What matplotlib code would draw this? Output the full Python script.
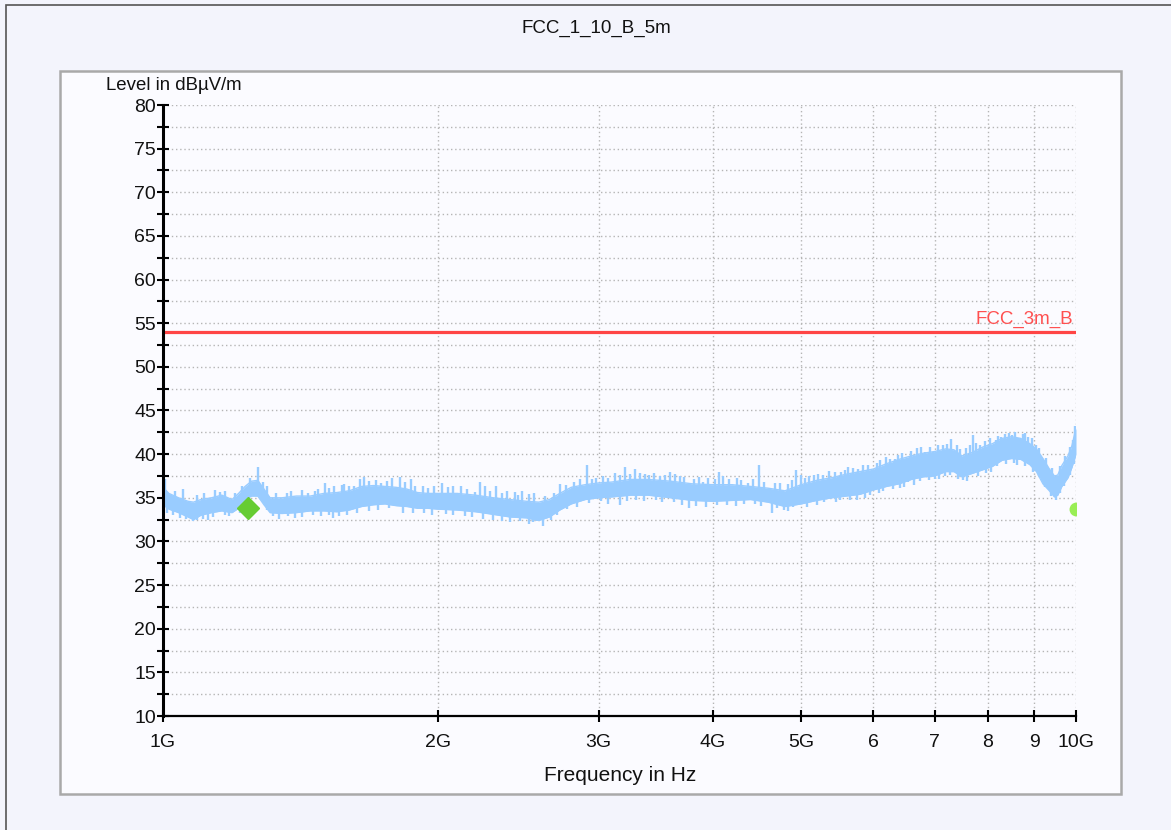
import matplotlib
matplotlib.use("Agg")
import matplotlib.pyplot as plt
from matplotlib.patches import Rectangle
from matplotlib.ticker import FixedLocator, NullLocator, NullFormatter
import numpy as np

plt.rcParams['font.family'] = ['Liberation Sans', 'DejaVu Sans']

# ---------------- data ----------------
title = "FCC_1_10_B_5m"
y_label = "Level in dBµV/m"
x_label = "Frequency in Hz"
limit_name = "FCC_3m_B"
limit_level = 54.0

x_tick_ghz = [1, 2, 3, 4, 5, 6, 7, 8, 9, 10]
x_tick_labels = ["1G", "2G", "3G", "4G", "5G", "6", "7", "8", "9", "10G"]
y_major = [10, 15, 20, 25, 30, 35, 40, 45, 50, 55, 60, 65, 70, 75, 80]
y_minor = [12.5, 17.5, 22.5, 27.5, 32.5, 37.5, 42.5, 47.5, 52.5, 57.5, 62.5, 67.5, 72.5, 77.5]

# measured trace: lower / upper envelope of the band (GHz, dBµV/m)
env_ghz = [1.000, 1.015, 1.04, 1.065, 1.08, 1.10, 1.13, 1.16, 1.19, 1.21, 1.23, 1.25,
           1.27, 1.29, 1.31, 1.35, 1.40, 1.45, 1.50, 1.55, 1.60, 1.65, 1.70, 1.75,
           1.80, 1.85, 1.90, 1.95, 2.00, 2.10, 2.20, 2.30, 2.40, 2.50, 2.58, 2.65,
           2.72, 2.80, 2.90, 3.00, 3.10, 3.25, 3.40, 3.60, 3.80, 4.00, 4.20, 4.40,
           4.60, 4.80, 5.00, 5.20, 5.40, 5.60, 5.80, 6.00, 6.20, 6.40, 6.60, 6.80,
           7.00, 7.20, 7.35, 7.50, 7.70, 7.90, 8.10, 8.30, 8.50, 8.70, 8.90, 9.05,
           9.20, 9.35, 9.47, 9.55, 9.65, 9.80, 9.90, 10.00]
env_low = [34.2, 33.7, 33.3, 32.8, 32.5, 33.0, 33.3, 33.5, 33.3, 33.8, 34.8, 35.2,
           35.2, 34.2, 33.3, 33.2, 33.3, 33.5, 33.5, 33.4, 33.6, 34.0, 34.2, 34.3,
           34.1, 34.0, 33.8, 33.8, 33.7, 33.6, 33.4, 33.1, 32.8, 32.7, 32.4, 32.8,
           33.6, 34.3, 34.8, 35.0, 35.1, 35.3, 35.3, 35.0, 34.7, 34.6, 34.7, 34.8,
           34.5, 34.0, 34.3, 34.7, 35.0, 35.2, 35.4, 35.9, 36.3, 36.6, 37.1, 37.4,
           37.5, 38.0, 38.0, 37.4, 37.8, 38.2, 38.6, 39.3, 39.5, 39.4, 38.8, 38.0,
           36.6, 35.8, 35.1, 35.3, 36.3, 37.3, 38.5, 40.0]
env_high = [36.2, 35.5, 35.0, 34.6, 34.5, 34.8, 35.0, 35.3, 34.8, 35.5, 36.3, 36.9,
            37.0, 36.0, 35.0, 35.0, 35.2, 35.2, 35.5, 35.6, 35.8, 36.3, 36.4, 36.3,
            36.2, 36.0, 35.6, 35.5, 35.5, 35.5, 35.3, 35.0, 34.8, 34.6, 34.5, 34.8,
            35.5, 36.2, 36.5, 36.7, 36.8, 37.1, 37.1, 36.9, 36.6, 36.5, 36.5, 36.3,
            36.1, 35.8, 36.5, 37.0, 37.3, 37.7, 38.0, 38.3, 38.9, 39.4, 39.8, 40.1,
            40.3, 40.6, 40.5, 39.8, 40.2, 40.8, 41.2, 41.8, 42.0, 41.8, 41.2, 40.6,
            39.5, 38.3, 37.5, 37.6, 38.7, 39.8, 41.0, 43.0]

# peaks sticking out above the band (GHz, tip level)
spike_up_ghz = [1.005, 1.03, 1.052, 1.09, 1.11, 1.14, 1.155, 1.17, 1.20, 1.22,
                1.245, 1.272, 1.287, 1.30, 1.33, 1.366, 1.38, 1.42, 1.44, 1.467,
                1.48, 1.504, 1.52, 1.54, 1.57, 1.58, 1.60, 1.62, 1.643, 1.66,
                1.68, 1.71, 1.735, 1.76, 1.78, 1.818, 1.84, 1.87, 1.89, 1.928,
                1.95, 1.98, 2.02, 2.05, 2.08, 2.12, 2.15, 2.195, 2.225, 2.25,
                2.28, 2.318, 2.35, 2.38, 2.43, 2.45, 2.47, 2.52, 2.55, 2.62,
                2.68, 2.72, 2.76, 2.82, 2.86, 2.91, 2.95, 2.98, 3.03, 3.07,
                3.13, 3.17, 3.21, 3.25, 3.29, 3.33, 3.37, 3.41, 3.45, 3.50,
                3.55, 3.59, 3.64, 3.68, 3.72, 3.82, 3.86, 3.90, 3.95, 4.02,
                4.06, 4.11, 4.17, 4.25, 4.30, 4.37, 4.43, 4.49, 4.55, 4.68,
                4.74, 4.84, 4.88, 4.94, 5.00, 5.05, 5.10, 5.16, 5.22, 5.28,
                5.37, 5.45, 5.53, 5.58, 5.63, 5.70, 5.77, 5.85, 5.92, 6.05,
                6.10, 6.20, 6.26, 6.33, 6.38, 6.45, 6.60, 6.70, 6.76, 6.84,
                6.92, 6.98, 7.06, 7.15, 7.22, 7.30, 7.40, 7.46, 7.58, 7.65,
                7.71, 7.78, 7.84, 7.94, 8.05, 8.17, 8.22, 8.28, 8.37, 8.44,
                8.50, 8.58, 8.65, 8.75, 8.80, 8.86, 8.95, 9.03, 9.12, 9.27,
                9.41, 9.60, 9.72, 9.85, 9.93, 9.97]
spike_up_val = [37.1, 35.8, 36.0, 35.3, 35.6, 35.9, 35.7, 35.8, 35.6, 36.3,
                37.3, 38.5, 36.8, 36.4, 35.6, 35.5, 35.8, 35.9, 35.6, 35.8,
                36.0, 36.7, 36.1, 36.3, 36.5, 36.6, 36.3, 36.4, 37.2, 37.4,
                36.9, 37.0, 36.7, 36.9, 37.3, 37.4, 36.8, 37.2, 36.3, 36.4,
                36.1, 36.3, 36.7, 36.2, 36.4, 36.3, 36.0, 35.7, 36.8, 36.4,
                35.8, 36.3, 35.6, 35.8, 35.7, 35.3, 35.8, 35.4, 35.5, 35.2,
                35.6, 36.6, 36.5, 36.8, 37.1, 38.7, 37.2, 37.3, 37.5, 37.3,
                37.8, 37.6, 38.5, 37.7, 38.3, 37.8, 37.7, 37.6, 37.8, 37.5,
                37.6, 37.9, 37.7, 37.5, 37.4, 37.2, 37.4, 36.8, 37.3, 37.2,
                38.0, 37.5, 37.2, 37.3, 37.0, 36.7, 37.1, 38.7, 36.8, 36.7,
                36.7, 36.6, 37.0, 38.2, 37.6, 37.3, 37.5, 37.6, 37.7, 37.6,
                38.1, 38.0, 37.9, 38.2, 38.5, 38.4, 38.3, 38.7, 38.7, 39.0,
                39.3, 39.7, 39.5, 39.4, 39.9, 40.1, 40.4, 40.7, 40.8, 40.3,
                40.8, 40.3, 41.0, 41.0, 41.2, 41.7, 41.0, 40.6, 40.7, 41.0,
                42.2, 41.3, 41.1, 41.5, 41.8, 41.6, 42.1, 42.0, 42.3, 42.4,
                42.2, 42.5, 41.8, 42.3, 42.4, 42.0, 41.8, 41.0, 40.7, 39.6,
                38.4, 38.6, 39.8, 40.8, 41.6, 43.2]
# dips below the band (GHz, tip level)
spike_dn_ghz = [1.01, 1.025, 1.045, 1.06, 1.079, 1.09, 1.105, 1.12, 1.135, 1.17,
                1.18, 1.215, 1.30, 1.32, 1.34, 1.37, 1.395, 1.42, 1.46, 1.49,
                1.52, 1.535, 1.56, 1.59, 1.63, 1.68, 1.72, 1.77, 1.83, 1.88,
                1.93, 1.97, 2.04, 2.08, 2.14, 2.18, 2.24, 2.30, 2.35, 2.40,
                2.46, 2.52, 2.54, 2.57, 2.61, 2.66, 2.70, 2.77, 2.84, 2.93,
                3.02, 3.07, 3.17, 3.22, 3.30, 3.36, 3.47, 3.52, 3.63, 3.70,
                3.77, 3.84, 3.93, 4.04, 4.15, 4.24, 4.33, 4.45, 4.52, 4.64,
                4.70, 4.79, 4.84, 4.90, 5.08, 5.20, 5.30, 5.46, 5.52, 5.66,
                5.75, 5.88, 5.95, 6.08, 6.15, 6.30, 6.42, 6.48, 6.55, 6.64,
                6.75, 6.90, 7.00, 7.08, 7.18, 7.28, 7.42, 7.52, 7.60, 7.82,
                7.96, 8.08, 8.20, 8.38, 8.55, 8.62, 8.80, 8.98, 9.10, 9.25,
                9.40, 9.50, 9.60, 9.70, 9.85, 9.95]
spike_dn_val = [33.2, 33.0, 32.7, 32.6, 32.3, 32.4, 32.6, 32.5, 32.8, 33.0,
                32.9, 33.3, 33.6, 32.9, 32.6, 32.9, 32.7, 32.8, 33.0, 32.9,
                33.0, 32.7, 32.9, 33.0, 33.3, 33.5, 33.6, 33.8, 33.3, 33.2,
                33.2, 33.0, 33.1, 33.0, 32.9, 32.8, 32.6, 32.5, 32.3, 32.2,
                32.3, 32.0, 32.2, 32.3, 31.8, 32.4, 33.0, 33.7, 34.0, 34.4,
                34.6, 34.3, 34.2, 34.6, 34.8, 34.6, 34.8, 34.5, 34.5, 34.2,
                33.8, 34.1, 34.0, 34.2, 34.2, 34.1, 34.3, 34.3, 34.1, 33.3,
                33.8, 33.6, 33.5, 33.9, 34.0, 34.2, 34.5, 34.5, 34.7, 34.8,
                34.8, 35.0, 35.3, 35.5, 35.8, 36.0, 36.1, 36.2, 36.8, 36.5,
                36.9, 37.0, 37.2, 37.1, 37.5, 37.6, 37.2, 37.0, 36.9, 37.5,
                37.8, 38.0, 38.6, 38.9, 39.0, 38.8, 38.6, 37.9, 37.5, 36.2,
                35.2, 34.8, 35.5, 36.3, 37.6, 38.9]

# markers
marker1_ghz, marker1_val = 1.239, 33.8
marker2_ghz, marker2_val = 10.0, 33.7

# ---------------- figure ----------------
W, H = 1171, 830
fig = plt.figure(figsize=(W / 100, H / 100), dpi=100)
fig.patch.set_facecolor("#f3f4fc")

def fx(px):
    return px / W

def fy(py):
    return 1 - py / H

# outer border (left/top visible)
fig.patches.append(Rectangle((fx(6), fy(900)), fx(1300), fy(5) - fy(900),
                             transform=fig.transFigure, facecolor="none",
                             edgecolor="#555555", lw=1.2, zorder=-2))
# inner panel
fig.patches.append(Rectangle((fx(60), fy(794)), fx(1121) - fx(60), fy(71) - fy(794),
                             transform=fig.transFigure, facecolor="#fbfbff",
                             edgecolor="#a9a9a9", lw=1.8, zorder=-1))

ax = fig.add_axes([fx(163), fy(716), fx(1076) - fx(163), fy(105) - fy(716)])
ax.set_facecolor("none")
ax.set_zorder(1)

to_hz = lambda seq: [g * 1e9 for g in seq]
band_c = "#99ccff"

ax.fill_between(to_hz(env_ghz), env_low, env_high, color=band_c, lw=0, zorder=3)
ax.plot(to_hz(env_ghz), env_low, color=band_c, lw=1.0, zorder=3)
ax.plot(to_hz(env_ghz), env_high, color=band_c, lw=1.0, zorder=3)

band_mid = (np.array(env_low) + np.array(env_high)) / 2
mid = np.interp(np.log10(spike_up_ghz), np.log10(env_ghz), band_mid)
ax.vlines(to_hz(spike_up_ghz), mid, spike_up_val, color=band_c, lw=1.7, zorder=3)
mid2 = np.interp(np.log10(spike_dn_ghz), np.log10(env_ghz), band_mid)
ax.vlines(to_hz(spike_dn_ghz), spike_dn_val, mid2, color=band_c, lw=1.7, zorder=3)

# limit line
ax.axhline(limit_level, color="#ff4545", lw=2.3, zorder=4)
ax.text(0.997, limit_level + 0.4, limit_name, transform=ax.get_yaxis_transform(),
        ha="right", va="bottom", color="#ff5050", fontsize=13.5, zorder=5)

# markers
ax.plot([marker1_ghz * 1e9], [marker1_val], marker="D", ms=11.5, color="#66cc33",
        mec="#66cc33", ls="none", zorder=6)
ax.plot([marker2_ghz * 1e9], [marker2_val], marker="o", ms=9, color="#99ee55",
        mec="#99ee55", ls="none", zorder=6, clip_on=True)

# axes
ax.set_xscale("log")
ax.set_xlim(1e9, 1e10)
ax.set_ylim(10, 80)

ax.xaxis.set_major_locator(FixedLocator(to_hz(x_tick_ghz)))
ax.set_xticklabels(x_tick_labels)
ax.xaxis.set_minor_locator(NullLocator())
ax.xaxis.set_minor_formatter(NullFormatter())
ax.yaxis.set_major_locator(FixedLocator(y_major))
ax.yaxis.set_minor_locator(FixedLocator(y_minor))
ax.set_yticklabels([str(v) for v in y_major])

ax.tick_params(axis="both", which="both", direction="inout", color="black",
               width=1.5, labelsize=14, labelcolor="#111111")
ax.tick_params(axis="y", which="both", length=8, pad=1)
ax.tick_params(axis="x", which="major", length=8, pad=9)

for s in ("top", "right"):
    ax.spines[s].set_visible(False)
ax.spines["left"].set_linewidth(2.2)
ax.spines["bottom"].set_linewidth(1.6)
ax.spines["left"].set_zorder(7)
ax.spines["bottom"].set_zorder(7)

grid_kw = dict(color="#b5b5b5", lw=1.0, ls=(0, (1, 2)), zorder=1)
for v in y_major[1:] + y_minor:
    ax.axhline(v, **grid_kw)
for g in x_tick_ghz[1:]:
    ax.axvline(g * 1e9, **grid_kw)

# texts
fig.text(fx(596), fy(28), title, ha="center", va="center", fontsize=13.5, color="#111111")
fig.text(fx(106), fy(85), y_label, ha="left", va="center", fontsize=13.4, color="#111111")
fig.text(fx(620), fy(775), x_label, ha="center", va="center", fontsize=15, color="#111111")

fig.savefig("out.png", dpi=100, facecolor=fig.get_facecolor())
